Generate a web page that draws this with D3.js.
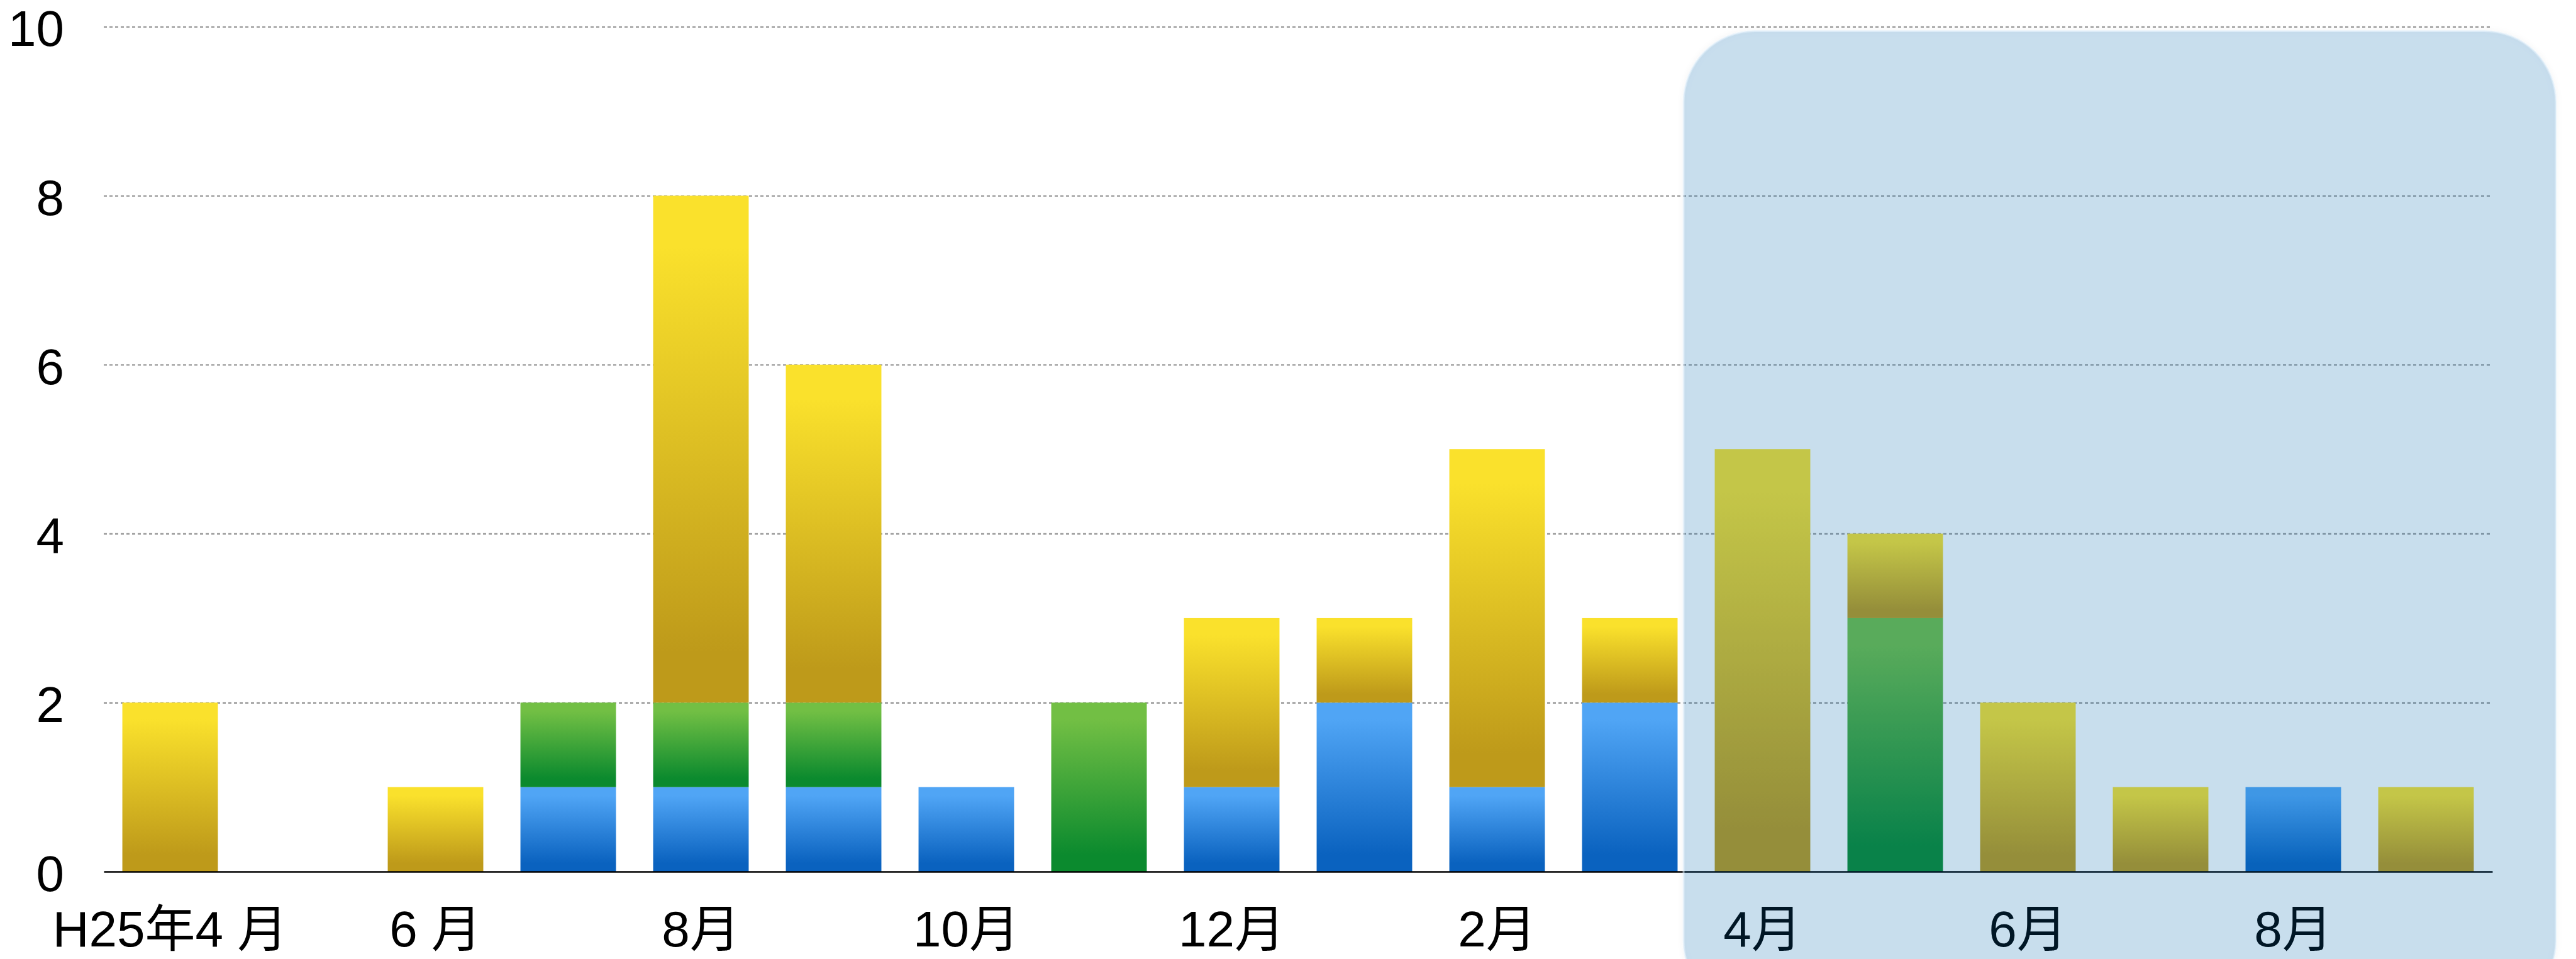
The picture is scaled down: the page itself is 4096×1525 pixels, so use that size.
<!DOCTYPE html>
<html>
<head>
<meta charset="utf-8">
<script src="https://cdn.jsdelivr.net/npm/d3@7"></script>
<style>
  body { margin: 0; background: #fff; }
  text { font-family: "Liberation Sans", Arial, "Noto Sans CJK JP", sans-serif; }
</style>
</head>
<body>
<div id="chart"></div>
<script>
"use strict";

// months H25/4 .. H26/9, only every other one is labelled
const months = ["H25年4 月", "", "6 月", "", "8月", "", "10月", "", "12月", "",
                "2月", "", "4月", "", "6月", "", "8月", ""];
const blueVals   = [0, 0, 0, 1, 1, 1, 1, 0, 1, 2, 1, 2, 0, 0, 0, 0, 1, 0];
const greenVals  = [0, 0, 0, 1, 1, 1, 0, 2, 0, 0, 0, 0, 0, 3, 0, 0, 0, 0];
const yellowVals = [2, 0, 1, 0, 6, 4, 0, 0, 2, 1, 4, 1, 5, 1, 2, 1, 0, 1];
const yTicks = [0, 2, 4, 6, 8, 10];
const seriesKeys = ["blue", "green", "yellow"];

const msm = {
  width: 4096,
  height: 1525,
  left: 165,
  right: 3963,
  top: 42.4,
  bottom: 1386
};

const gradColors = {
  blue:   ["#50a5f5", "#0a62bf"],
  green:  ["#72bf44", "#0b8a2e"],
  yellow: ["#fae12c", "#be9a1a"]
};

let svg = d3.select("#chart").append("svg")
  .attr("width", msm.width)
  .attr("height", msm.height);

let defs = svg.append("defs");
seriesKeys.forEach((k) => {
  let g = defs.append("linearGradient")
    .attr("id", "grad-" + k)
    .attr("x1", 0).attr("y1", 0).attr("x2", 0).attr("y2", 1);
  g.append("stop").attr("offset", "0").attr("stop-color", gradColors[k][0]);
  g.append("stop").attr("offset", "0.1").attr("stop-color", gradColors[k][0]);
  g.append("stop").attr("offset", "0.9").attr("stop-color", gradColors[k][1]);
  g.append("stop").attr("offset", "1").attr("stop-color", gradColors[k][1]);
});

let shadow = defs.append("filter").attr("id", "boxShadow")
  .attr("x", "-5%").attr("y", "-5%").attr("width", "110%").attr("height", "110%");
shadow.append("feDropShadow")
  .attr("dx", 0).attr("dy", 0).attr("stdDeviation", 4)
  .attr("flood-color", "#000").attr("flood-opacity", 0.1);

// build rows for the stack
let rows = months.map((m, i) => ({
  idx: i,
  blue: blueVals[i],
  green: greenVals[i],
  yellow: yellowVals[i]
}));
let stacked = d3.stack().keys(seriesKeys)(rows);

let x = d3.scaleBand()
  .domain(d3.range(months.length))
  .range([msm.left, msm.right])
  .paddingInner(0.28)
  .paddingOuter(0.14);

let y = d3.scaleLinear()
  .domain([0, 10])
  .range([msm.bottom, msm.top]);

// dashed grid lines
let grid = svg.append("g")
  .attr("transform", "translate(" + msm.left + ",0)")
  .call(d3.axisLeft(y).tickValues(yTicks.filter((t) => t > 0))
    .tickSize(-(msm.right - msm.left)).tickFormat(""));
grid.select(".domain").remove();
grid.selectAll("line")
  .attr("stroke", "#999")
  .attr("stroke-width", 2.4)
  .attr("stroke-dasharray", "5,4");

// bars
svg.append("g").selectAll("g")
  .data(stacked)
  .join("g")
  .attr("fill", (s) => "url(#grad-" + s.key + ")")
  .selectAll("rect")
  .data((s) => s.filter((d) => d[1] > d[0]))
  .join("rect")
  .attr("x", (d) => x(d.data.idx))
  .attr("y", (d) => y(d[1]))
  .attr("width", x.bandwidth())
  .attr("height", (d) => y(d[0]) - y(d[1]));

// y tick labels
let yAxis = svg.append("g")
  .attr("transform", "translate(" + msm.left + ",0)")
  .call(d3.axisLeft(y).tickValues(yTicks).tickSize(0).tickPadding(63));
yAxis.select(".domain").remove();
yAxis.selectAll("text")
  .attr("dy", "0.38em")
  .style("font-size", "80px")
  .attr("fill", "#000");

// x axis line + month labels
let xAxis = svg.append("g")
  .attr("transform", "translate(0," + msm.bottom + ")")
  .call(d3.axisBottom(x).tickSize(0).tickSizeOuter(0).tickPadding(62)
    .tickFormat((i) => months[i]));
xAxis.select(".domain")
  .attr("stroke", "#000")
  .attr("stroke-width", 2.6);
xAxis.selectAll("text")
  .style("font-size", "80px")
  .attr("fill", "#000");

// translucent rounded box over the last months
let boxLeft = 2677, boxRight = 4064;
svg.append("rect")
  .attr("x", boxLeft)
  .attr("y", 49.5)
  .attr("width", boxRight - boxLeft)
  .attr("height", 1560)
  .attr("rx", 113)
  .attr("ry", 113)
  .attr("fill", "rgba(0,103,181,0.2)")
  .attr("stroke", "rgba(225,240,252,0.55)")
  .attr("stroke-width", 3)
  .attr("filter", "url(#boxShadow)");
</script>
</body>
</html>
